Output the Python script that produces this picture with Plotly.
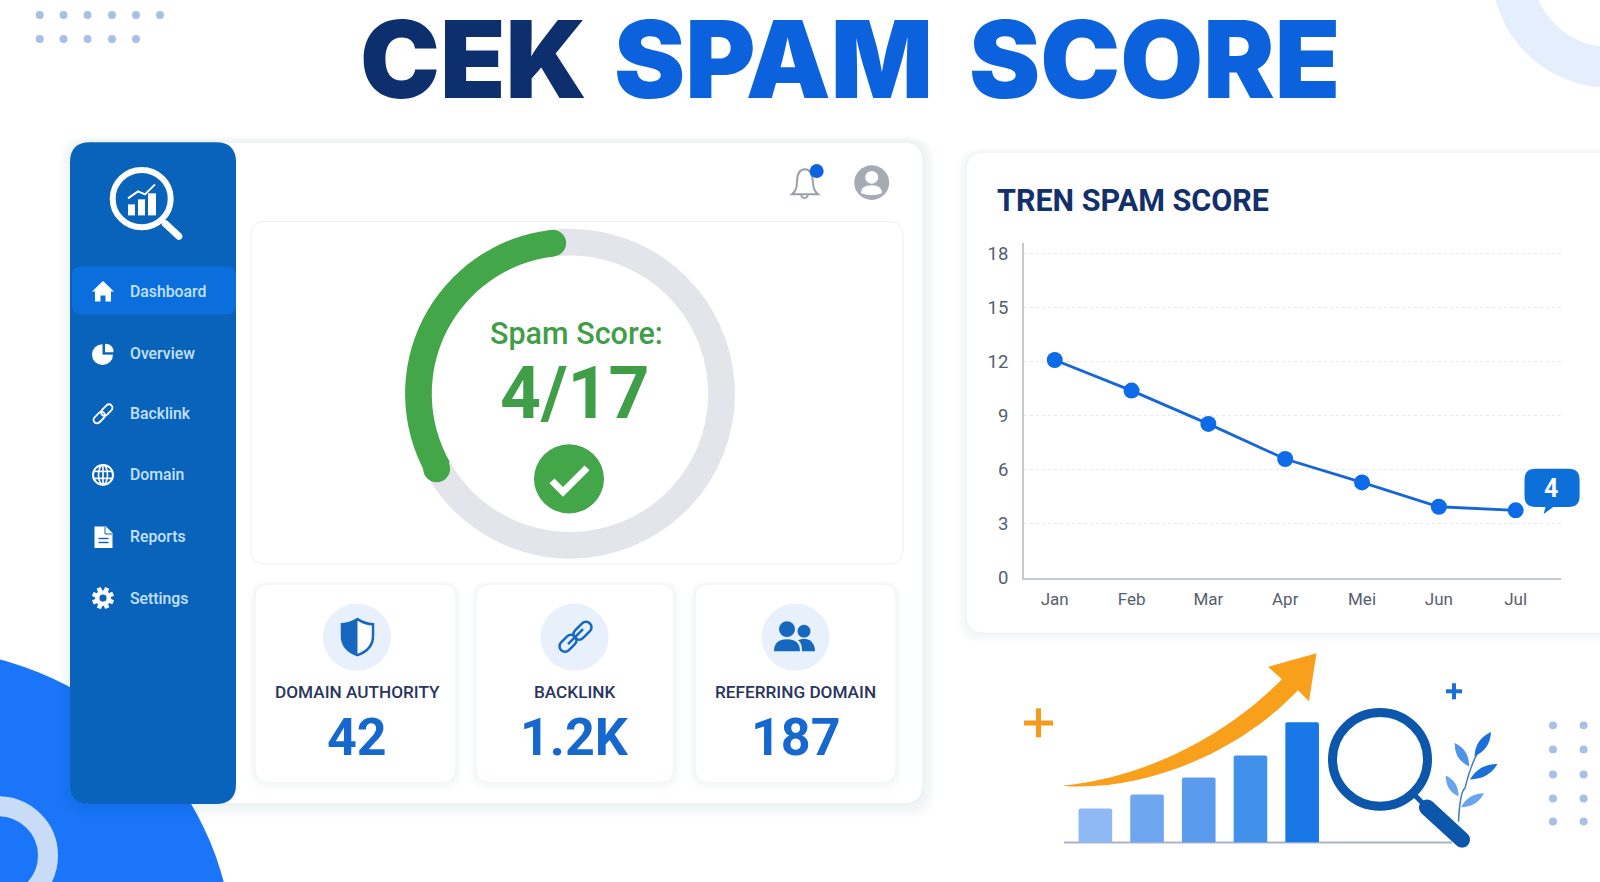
import math

import plotly.graph_objects as go

W = 1600
H = 882
Y_FIX = 1.0145  # crops of the reference read a bit short in y

# trend chart
months = ["Jan", "Feb", "Mar", "Apr", "Mei", "Jun", "Jul"]
spam_trend = [12.1, 10.4, 8.55, 6.6, 5.3, 3.95, 3.75]
y_ticks = [0, 3, 6, 9, 12, 15, 18]

# gauge, the green part of the ring as it is drawn in the picture
gauge_arc = [31.4, 68.6]

# small illustration bars
illus_bars = [34, 48, 65, 87, 120]
illus_labels = ["a", "b", "c", "d", "e"]
illus_colors = ["#8fb9f5", "#6ea6f0", "#5a9bee", "#4190ea", "#1a78e6"]

# texts
nav_items = ["Dashboard", "Overview", "Backlink", "Domain", "Reports", "Settings"]
stat_labels = ["DOMAIN AUTHORITY", "BACKLINK", "REFERRING DOMAIN"]
stat_values = ["42", "1.2K", "187"]

FONT = "Roboto"
NAVY = "#0d2f6e"
BLUE = "#0c62dc"
SIDE = "#0a63ba"
GREEN = "#43a648"
ICON = "#1668bf"

shapes = []
annotations = []


def fx(x):
	return x / W


def fy(y):
	return 1 - y * Y_FIX / H


def to_paper(path):
	# path is written in page pixels, shapes want paper fractions
	out = []
	is_x = True
	for tok in path.split():
		if tok.isalpha():
			out.append(tok)
			is_x = True
		else:
			val = float(tok)
			out.append(f"{fx(val) if is_x else fy(val):.6f}")
			is_x = not is_x
	return " ".join(out)


def add_path(path, fill=None, line=None, width=0, layer="below"):
	shapes.append(dict(type="path", path=to_paper(path), xref="paper", yref="paper", layer=layer,
		fillcolor=fill if fill else "rgba(0,0,0,0)",
		line=dict(color=line if line else "rgba(0,0,0,0)", width=width)))


def add_circle(cx, cy, rx, fill=None, line=None, width=0, ry=None, layer="below"):
	ry = rx if ry is None else ry
	shapes.append(dict(type="circle", xref="paper", yref="paper", layer=layer,
		x0=fx(cx - rx), x1=fx(cx + rx), y0=fy(cy + ry / Y_FIX), y1=fy(cy - ry / Y_FIX),
		fillcolor=fill if fill else "rgba(0,0,0,0)",
		line=dict(color=line if line else "rgba(0,0,0,0)", width=width)))


def add_seg(x0, y0, x1, y1, color, width, dash=None, layer="below"):
	shapes.append(dict(type="line", xref="paper", yref="paper", layer=layer,
		x0=fx(x0), x1=fx(x1), y0=fy(y0), y1=fy(y1), line=dict(color=color, width=width, dash=dash)))


def round_rect(x0, y0, x1, y1, r):
	return (f"M {x0 + r} {y0} L {x1 - r} {y0} Q {x1} {y0} {x1} {y0 + r} L {x1} {y1 - r} "
		f"Q {x1} {y1} {x1 - r} {y1} L {x0 + r} {y1} Q {x0} {y1} {x0} {y1 - r} "
		f"L {x0} {y0 + r} Q {x0} {y0} {x0 + r} {y0} Z")


def card(x0, y0, x1, y1, r, border="#f0f2f6", shadow=4):
	for i in range(shadow, 0, -1):
		add_path(round_rect(x0 - i * 2, y0 - i, x1 + i * 2, y1 + i * 2.5, r + i), fill="rgba(40,60,110,0.012)")
	add_path(round_rect(x0, y0, x1, y1, r), fill="#ffffff", line=border, width=1)


def capsule(x0, y0, x1, y1, r):
	length = math.hypot(x1 - x0, y1 - y0)
	ux, uy = (x1 - x0) / length, (y1 - y0) / length
	nx, ny = -uy * r, ux * r
	ux, uy = ux * r, uy * r
	k = 0.55
	return (f"M {x0 + nx} {y0 + ny} L {x1 + nx} {y1 + ny} "
		f"C {x1 + nx + ux * k} {y1 + ny + uy * k} {x1 + ux + nx * k} {y1 + uy + ny * k} {x1 + ux} {y1 + uy} "
		f"C {x1 + ux - nx * k} {y1 + uy - ny * k} {x1 - nx + ux * k} {y1 - ny + uy * k} {x1 - nx} {y1 - ny} "
		f"L {x0 - nx} {y0 - ny} "
		f"C {x0 - nx - ux * k} {y0 - ny - uy * k} {x0 - ux - nx * k} {y0 - uy - ny * k} {x0 - ux} {y0 - uy} "
		f"C {x0 - ux + nx * k} {y0 - uy + ny * k} {x0 + nx - ux * k} {y0 + ny - uy * k} {x0 + nx} {y0 + ny} Z")


def leaf(x0, y0, x1, y1, w, color):
	mx, my = (x0 + x1) / 2, (y0 + y1) / 2
	length = math.hypot(x1 - x0, y1 - y0)
	nx, ny = -(y1 - y0) / length * w, (x1 - x0) / length * w
	add_path(f"M {x0} {y0} Q {mx + nx} {my + ny} {x1} {y1} Q {mx - nx} {my - ny} {x0} {y0} Z", fill=color)


def text(x, y, s, size, color, weight=400, anchor="center", font=FONT):
	annotations.append(dict(x=fx(x), y=fy(y), xref="paper", yref="paper", text=s, showarrow=False,
		xanchor=anchor, yanchor="middle", borderpad=0, borderwidth=0,
		font=dict(family=font, size=size, color=color, weight=weight)))


# background decoration
add_circle(-82, 959, 316, fill="#1a75f8")
add_circle(-2, 854, 50, line="#c8dcf8", width=20)
add_circle(1610, -29, 97.5, line="#e4eefc", width=41)
for i, dot_y in enumerate([15, 39]):
	for dot_x in [39.7, 63.5, 87.5, 112, 136, 160][: 6 - i]:
		add_circle(dot_x, dot_y, 4, fill="#a8bfe6")
for dot_x in [1553, 1583.6]:
	for dot_y in [724, 748, 773, 797, 820]:
		add_circle(dot_x, dot_y, 4, fill="#a8bfe6")

# main panel and sidebar
card(72, 142, 923, 802, 20, shadow=6)
add_path(round_rect(70, 142, 236, 802.5, 20), fill=SIDE)
add_path(round_rect(72, 266, 236, 314, 9), fill="#0a6fdc")

# logo
add_circle(141.7, 198.3, 29, line="#ffffff", width=6)
add_path(capsule(165, 223, 179, 236, 3.5), fill="#ffffff")
for bx0, bx1, btop in [(128, 135, 204), (138, 145, 199), (148, 156, 193)]:
	add_path(f"M {bx0} {btop} L {bx1} {btop} L {bx1} 215 L {bx0} 215 Z", fill="#ffffff")
add_path("M 128 198 L 138 191 L 145 194 L 155 184", line="#ffffff", width=2)

# sidebar items
nav_y = [290.7, 353, 413, 474, 536, 597]
for name, y in zip(nav_items, nav_y):
	text(130, y, name, 15.8, "#c4e1ff", 500, "left")
add_path("M 92 291 L 103 280.5 L 114 291 L 111 291 L 111 301 L 105.5 301 L 105.5 295 L 100.5 295 L 100.5 301 L 95 301 L 95 291 Z", fill="#ffffff")
add_circle(102.5, 354, 10.5, fill="#ffffff")
add_path("M 102.5 342 L 115 342 L 115 354 L 102.5 354 Z", fill=SIDE)
add_path("M 105 343 Q 113.5 343 113.5 351.5 L 105 351.5 Z", fill="#ffffff")
add_path(capsule(97, 419, 101.5, 414.5, 3.5), line="#ffffff", width=1.8)
add_path(capsule(104.5, 411.5, 109, 407, 3.5), line="#ffffff", width=1.8)
add_circle(103, 474, 10, line="#ffffff", width=2)
add_circle(103, 474, 4.5, line="#ffffff", width=1.6, ry=10)
add_seg(94, 470.5, 112, 470.5, "#ffffff", 1.6)
add_seg(94, 477.5, 112, 477.5, "#ffffff", 1.6)
add_seg(103, 464, 103, 484, "#ffffff", 1.6)
add_path("M 94.5 525.5 L 106 525.5 L 112.5 532 L 112.5 547 L 94.5 547 Z", fill="#ffffff")
add_seg(98.5, 537.5, 108.5, 537.5, SIDE, 1.4)
add_seg(98.5, 541.5, 108.5, 541.5, SIDE, 1.4)
add_path("M 105 526 L 105 533 L 112 533", line=SIDE, width=1)
for a in range(0, 360, 45):
	ca, sa = math.cos(math.radians(a + 22)), math.sin(math.radians(a + 22))
	add_seg(103 + 6 * ca, 597 + 6 * sa, 103 + 11 * ca, 597 + 11 * sa, "#ffffff", 4.5)
add_circle(103, 597, 8, fill="#ffffff")
add_circle(103, 597, 3.6, fill=SIDE)

# bell and user
add_path("M 792 194 Q 797 190 797 182 Q 797 169 805 169 Q 812 169 813 182 Q 813 190 818 194 Z", line="#9aa0a8", width=2)
add_path("M 801 195 Q 804.5 201 808 195", line="#9aa0a8", width=2)
add_circle(816.7, 170.7, 7, fill="#0e62dc")
add_circle(871.7, 182.3, 17.5, fill="#a6abb3")
add_circle(871.7, 177, 6.5, fill="#ffffff")
add_path("M 861 193 Q 861 185 871.7 185 Q 882 185 882 193 Q 871.7 197 861 193 Z", fill="#ffffff")

# gauge card
card(251, 221, 903, 563, 14, border="#eef0f4", shadow=0)
GX, GY = 570, 393
G_OUT = 167
GR, GW = 153.5, 27
for ang in [240.3, 353.5]:
	add_circle(GX + GR * math.sin(math.radians(ang)), GY - GR * math.cos(math.radians(ang)) / Y_FIX, GW / 2, fill=GREEN, layer="above")
text(576, 333, "Spam Score:", 30.5, "#3f9e47", 500)
text(575, 393, "4/17", 71.5, "#3f9e47", 700)
add_circle(569, 478, 35, fill=GREEN)
add_path("M 552 480 L 563 491 L 587 467", line="#ffffff", width=7)

# stat cards
stat_x = [357, 574.5, 795.5]
stat_boxes = [(255, 456), (476, 674), (695, 896)]
for x, box, label, value in zip(stat_x, stat_boxes, stat_labels, stat_values):
	card(box[0], 583, box[1], 781, 14, shadow=3)
	add_circle(x, 636, 34, fill="#e8f0fb")
	text(x, 691, label, 17.2, "#2a3560", 500)
	text(x, 736, value, 52, "#1668cf", 700)
add_path("M 357.5 618 Q 365 623 373 623 L 373 635 Q 373 648 357.5 654 Q 342 648 342 635 L 342 623 Q 350 623 357.5 618 Z", fill="#ffffff", line=ICON, width=2.5)
add_path("M 357.5 618 L 357.5 654 Q 342 648 342 635 L 342 623 Q 350 623 357.5 618 Z", fill=ICON)
add_path(capsule(565, 645, 571, 639, 5.5), line=ICON, width=2.5)
add_path(capsule(579, 633, 586, 626, 5.5), line=ICON, width=2.5)
add_seg(568, 643, 583, 628, ICON, 2.5)
add_circle(787, 628, 8, fill=ICON)
add_circle(804, 630, 6.5, fill=ICON)
add_path("M 774 650 Q 774 638 787 638 Q 800 638 800 650 Z", fill=ICON)
add_path("M 802 650 Q 802 641 798 639 Q 804 636 810 639 Q 815 643 815 650 Z", fill=ICON)

# trend card
card(966, 152, 1640, 632, 18, shadow=4)
text(997, 200, "TREN SPAM SCORE", 30.5, "#12306b", 700, "left")

# bubble on the last point
add_path(round_rect(1524.5, 468, 1579.6, 506, 11), fill="#0d6fd8", layer="above")
add_path("M 1546 504 L 1543.7 513 L 1556 504 Z", fill="#0d6fd8", layer="above")
text(1551.4, 488, "4", 25, "#ffffff", 700)

# illustration
add_seg(1064, 841, 1452, 841, "#a9b3cc", 2)
add_path("M 1064 784 C 1130 778 1215 745 1282 678 L 1268 665.7 L 1316.5 652 L 1309 700 L 1298 689 "
	"C 1235 755 1140 790 1064 784.5 Z", fill="#f8a01b")
add_seg(1024, 721.7, 1053, 721.7, "#f39a1f", 5)
add_seg(1038.5, 707, 1038.5, 736, "#f39a1f", 5)
add_seg(1446, 690, 1462, 690, "#1a6fd8", 4)
add_seg(1454, 682, 1454, 698, "#1a6fd8", 4)
add_path("M 1458.5 820 Q 1460 790 1465 786.7 Q 1470 765 1478.4 750", line="#3b78c8", width=1.5)
leaf(1474.5, 755, 1491, 730.7, 9, "#1a6fd8")
leaf(1469, 765, 1454.7, 741.7, 9, "#4f93e6")
leaf(1470, 778, 1497.5, 762.7, 9, "#1a6fd8")
leaf(1458.5, 795, 1445.8, 774, 8, "#6aa5ec")
leaf(1461, 805.7, 1484, 791.7, 8, "#6aa5ec")
add_circle(1380, 758, 47.5, line="#0c56ab", width=9)
add_seg(1414, 793, 1424, 803, "#0c56ab", 5)
add_path(capsule(1427, 806, 1462, 838, 8), fill="#0c56ab")

# title, one word at a time because the gaps are wider than a space
for word, x, color in [("CEK", 360, NAVY), ("SPAM", 614, BLUE), ("SCORE", 969, BLUE)]:
	text(x, 58.5, word, 107, color, 900, "left", "Inter")

fig = go.Figure()

fig.add_trace(go.Scatter(x=list(range(len(months))), y=spam_trend, mode="lines+markers", showlegend=False,
	line=dict(color="#1566d8", width=2.8), marker=dict(color="#0e6be8", size=16), hoverinfo="x+y",
	xaxis="x", yaxis="y"))

fig.add_trace(go.Bar(x=illus_labels, y=illus_bars, marker=dict(color=illus_colors, line=dict(width=0)), showlegend=False,
	hoverinfo="skip", xaxis="x2", yaxis="y2"))

fig.add_trace(go.Pie(values=gauge_arc, sort=False, direction="clockwise", rotation=240.3, hole=0.838,
	marker=dict(colors=[GREEN, "#e3e5ea"], line=dict(width=0)), textinfo="none", hoverinfo="skip", showlegend=False,
	domain=dict(x=[fx(GX - G_OUT), fx(GX + G_OUT)], y=[fy(GY + G_OUT / Y_FIX), fy(GY - G_OUT / Y_FIX)])))

fig.update_layout(
	width=W, height=H, autosize=False,
	margin=dict(l=0, r=0, t=0, b=0),
	paper_bgcolor="#ffffff", plot_bgcolor="rgba(0,0,0,0)",
	showlegend=False,
	bargap=0.35, barcornerradius=2,
	shapes=shapes, annotations=annotations,
	font=dict(family=FONT),
	xaxis=dict(domain=[fx(1024), fx(1561)], range=[-0.40, 6.59], tickvals=list(range(len(months))), ticktext=months,
		showgrid=False, zeroline=False, showline=True, linecolor="#c5c9d2", linewidth=2, ticks="", ticklabelstandoff=5,
		tickfont=dict(family=FONT, size=17, color="#555e6e"), anchor="y"),
	yaxis=dict(domain=[fy(576.8), fy(242.5)], range=[0, 18.6], tickvals=y_ticks, showgrid=True, gridcolor="#e8eaef", griddash="dot",
		zeroline=False, showline=True, linecolor="#c5c9d2", linewidth=2, ticks="", ticklabelstandoff=10,
		tickfont=dict(family=FONT, size=18.5, color="#555e6e"), anchor="x"),
	xaxis2=dict(domain=[fx(1069.5), fx(1328)], visible=False, fixedrange=True, anchor="y2"),
	yaxis2=dict(domain=[fy(841), fy(711)], range=[0, 130], visible=False, fixedrange=True, anchor="x2"),
)

fig.write_html("out.html", config=dict(displayModeBar=False),
	post_script="document.documentElement.style.cssText='margin:0;height:882px;overflow:hidden';document.body.style.cssText='margin:0;height:882px;overflow:hidden';")
